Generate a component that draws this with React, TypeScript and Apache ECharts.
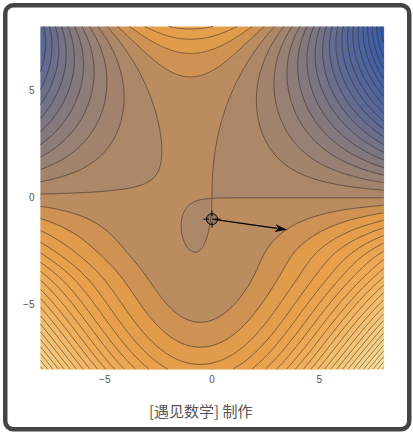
import { useEffect, useRef } from 'react';
import * as echarts from 'echarts';

// ---------- values ----------
const X_RANGE = [-8, 8];
const Y_RANGE = [-8, 8];
const MAJOR_TICKS = [-5, 0, 5];
const MINOR_TICKS = [-7, -6, -4, -3, -2, -1, 1, 2, 3, 4, 6, 7];
// surface
const AXIS_X = [-0.95, 0.38, -3, 2.5]; // symmetry axis of the contour family (+ shift low down)
const WIDTH_UP = [0.9, 0.44, 0.45];   // half-width law above y = 0
const WIDTH_DOWN = [0.0984, 0.0121];  // half-width law below y = 0
const TILT = [1.2, -1.0, 3];          // left/right asymmetry
const LEVEL_STEP = [28];
const POINT = [0, -1];
const ARROW_TIP = [3.5, -1.5];
// band colours by contour band index (band 0 = the one just above the level through the point)
const BAND_COLORS: number[][] = [
  [-19, 58, 93, 168],
  [-10, 92, 105, 150],
  [-5, 132, 121, 126],
  [-1, 172, 136, 105],
  [0, 186, 140, 96],
  [1, 206, 147, 84],
  [2, 224, 156, 76],
  [4, 232, 160, 76],
  [8, 238, 172, 88],
  [12, 242, 189, 110],
  [17, 246, 206, 133],
  [24, 250, 226, 162],
];
const CAPTION = '[遇见数学] 制作';

function axisAt(y: number) {
  return AXIS_X[0] + AXIS_X[1] / (1 + Math.exp((y - AXIS_X[2]) * AXIS_X[3]));
}
function halfWidth2(y: number) {
  if (y >= 0) return WIDTH_UP[0] + WIDTH_UP[1] * (Math.exp(WIDTH_UP[2] * y) - 1 - WIDTH_UP[2] * y);
  const a = -y;
  return WIDTH_UP[0] - WIDTH_DOWN[0] * a * a - WIDTH_DOWN[1] * a * a * a;
}
function softplus(z: number) {
  return z > 30 ? z : Math.log1p(Math.exp(z));
}
function tilt(x: number) {
  const [eps, x1, k] = TILT;
  return (eps * (softplus(-k * (x - x1)) - softplus(k * x1))) / k;
}
function surface(x: number, y: number) {
  const u = x - axisAt(y);
  return -y * (u * u - halfWidth2(y)) + tilt(x);
}

function bandColor(k: number) {
  const S = BAND_COLORS;
  if (k <= S[0][0]) return `rgb(${S[0][1]},${S[0][2]},${S[0][3]})`;
  for (let i = 1; i < S.length; i++) {
    const a = S[i - 1];
    const b = S[i];
    if (k <= b[0]) {
      const s = (k - a[0]) / (b[0] - a[0]);
      const c = [1, 2, 3].map((j) => Math.round(a[j] + (b[j] - a[j]) * s));
      return `rgb(${c[0]},${c[1]},${c[2]})`;
    }
  }
  const l = S[S.length - 1];
  return `rgb(${l[1]},${l[2]},${l[3]})`;
}

function buildFill(step: number) {
  const rows = 342;
  const cols = 686;
  const dx = (X_RANGE[1] - X_RANGE[0]) / cols;
  const dy = (Y_RANGE[1] - Y_RANGE[0]) / rows;
  const runs: number[][] = [];
  for (let r = 0; r < rows; r++) {
    const y0 = Y_RANGE[0] + r * dy;
    const yc = y0 + dy / 2;
    let start = X_RANGE[0];
    let band = NaN;
    for (let c = 0; c < cols; c++) {
      const xc = X_RANGE[0] + (c + 0.5) * dx;
      const b = Math.floor(surface(xc, yc) / step);
      if (c === 0) band = b;
      else if (b !== band) {
        const xe = X_RANGE[0] + c * dx;
        runs.push([start, xe, y0, y0 + dy, band]);
        start = xe;
        band = b;
      }
    }
    runs.push([start, X_RANGE[1], y0, y0 + dy, band]);
  }
  return runs;
}

function buildContours(step: number) {
  const N = 321;
  const h = (X_RANGE[1] - X_RANGE[0]) / (N - 1);
  const xs = new Float64Array(N);
  for (let i = 0; i < N; i++) xs[i] = X_RANGE[0] + i * h;
  const vals = new Float64Array(N * N);
  let vmin = Infinity;
  let vmax = -Infinity;
  for (let j = 0; j < N; j++)
    for (let i = 0; i < N; i++) {
      const v = surface(xs[i], Y_RANGE[0] + j * h);
      vals[j * N + i] = v;
      if (v < vmin) vmin = v;
      if (v > vmax) vmax = v;
    }
  const kmin = Math.ceil(vmin / step);
  const kmax = Math.floor(vmax / step);
  const adj = new Map<number, Map<number, number[]>>();
  const pts = new Map<number, Map<number, number[]>>();
  for (let k = kmin; k <= kmax; k++) {
    adj.set(k, new Map());
    pts.set(k, new Map());
  }
  const edgePoint = (k: number, id: number, L: number) => {
    const pm = pts.get(k)!;
    if (pm.has(id)) return;
    const horiz = id % 2 === 0;
    const base = id >> 1;
    const i = base % N;
    const j = (base - i) / N;
    const va = vals[j * N + i];
    if (horiz) {
      const vb = vals[j * N + i + 1];
      const t = (L - va) / (vb - va);
      pm.set(id, [xs[i] + t * h, Y_RANGE[0] + j * h]);
    } else {
      const vb = vals[(j + 1) * N + i];
      const t = (L - va) / (vb - va);
      pm.set(id, [xs[i], Y_RANGE[0] + (j + t) * h]);
    }
  };
  const link = (k: number, a: number, b: number, L: number) => {
    edgePoint(k, a, L);
    edgePoint(k, b, L);
    const m = adj.get(k)!;
    if (!m.has(a)) m.set(a, []);
    if (!m.has(b)) m.set(b, []);
    m.get(a)!.push(b);
    m.get(b)!.push(a);
  };
  for (let j = 0; j < N - 1; j++)
    for (let i = 0; i < N - 1; i++) {
      const v0 = vals[j * N + i];
      const v1 = vals[j * N + i + 1];
      const v2 = vals[(j + 1) * N + i + 1];
      const v3 = vals[(j + 1) * N + i];
      const lo = Math.min(v0, v1, v2, v3);
      const hi = Math.max(v0, v1, v2, v3);
      const k0 = Math.ceil(lo / step);
      const k1 = Math.floor(hi / step);
      if (k1 < k0) continue;
      const e0 = (j * N + i) * 2;
      const e2 = ((j + 1) * N + i) * 2;
      const e3 = (j * N + i) * 2 + 1;
      const e1 = (j * N + i + 1) * 2 + 1;
      for (let k = k0; k <= k1; k++) {
        const L = k * step;
        const c = (v0 > L ? 1 : 0) | (v1 > L ? 2 : 0) | (v2 > L ? 4 : 0) | (v3 > L ? 8 : 0);
        const center = (v0 + v1 + v2 + v3) / 4 > L;
        switch (c) {
          case 1: case 14: link(k, e3, e0, L); break;
          case 2: case 13: link(k, e0, e1, L); break;
          case 3: case 12: link(k, e3, e1, L); break;
          case 4: case 11: link(k, e1, e2, L); break;
          case 6: case 9: link(k, e0, e2, L); break;
          case 7: case 8: link(k, e3, e2, L); break;
          case 5:
            if (center) { link(k, e0, e1, L); link(k, e2, e3, L); }
            else { link(k, e3, e0, L); link(k, e1, e2, L); }
            break;
          case 10:
            if (center) { link(k, e3, e0, L); link(k, e1, e2, L); }
            else { link(k, e0, e1, L); link(k, e2, e3, L); }
            break;
          default: break;
        }
      }
    }
  const lines: number[][][] = [];
  for (let k = kmin; k <= kmax; k++) {
    const m = adj.get(k)!;
    const pm = pts.get(k)!;
    const used = new Set<number>();
    const walk = (s: number) => {
      const line: number[][] = [pm.get(s)!];
      used.add(s);
      let prev = -1;
      let cur = s;
      for (;;) {
        const nb = m.get(cur)!;
        let nxt = -1;
        for (const n of nb) if (n !== prev && !used.has(n)) { nxt = n; break; }
        if (nxt < 0) {
          for (const n of nb) if (n === s && prev !== s && line.length > 2) line.push(pm.get(s)!);
          break;
        }
        used.add(nxt);
        line.push(pm.get(nxt)!);
        prev = cur;
        cur = nxt;
      }
      if (line.length > 1) lines.push(line);
    };
    for (const [id, nb] of m) if (nb.length === 1 && !used.has(id)) walk(id);
    for (const id of m.keys()) if (!used.has(id)) walk(id);
  }
  return lines;
}

export default function App() {
  const ref = useRef<HTMLDivElement>(null);
  useEffect(() => {
    document.body.style.margin = '0';
    const chart = echarts.init(ref.current!, undefined, { renderer: 'svg' });
    const step = LEVEL_STEP[0];
    const runs = buildFill(step);
    const lines = buildContours(step);
    const tickColor = '#6f7785';
    const frameColor = '#6a6a6a';
    const fmt = (v: number) => (v < 0 ? '\u2212' + Math.abs(v) : String(v));
    const mkX = (pos: 'bottom' | 'top', major: boolean) => ({
      type: 'value', min: X_RANGE[0], max: X_RANGE[1], position: pos,
      axisLine: { show: major, lineStyle: { color: frameColor, width: 1 } },
      axisTick: { show: true, inside: true, length: major ? 5 : 2.5, customValues: major ? MAJOR_TICKS : MINOR_TICKS, lineStyle: { color: tickColor, width: 1 } },
      axisLabel: { show: major && pos === 'bottom', customValues: MAJOR_TICKS, formatter: fmt, color: '#555', fontSize: 10, fontFamily: 'Liberation Sans, Arial, sans-serif', margin: 5 },
      splitLine: { show: false },
    });
    const mkY = (pos: 'left' | 'right', major: boolean) => ({
      type: 'value', min: Y_RANGE[0], max: Y_RANGE[1], position: pos,
      axisLine: { show: major, lineStyle: { color: frameColor, width: 1 } },
      axisTick: { show: true, inside: true, length: major ? 5 : 2.5, customValues: major ? MAJOR_TICKS : MINOR_TICKS, lineStyle: { color: tickColor, width: 1 } },
      axisLabel: { show: major && pos === 'left', customValues: MAJOR_TICKS, formatter: fmt, color: '#555', fontSize: 10, fontFamily: 'Liberation Sans, Arial, sans-serif', margin: 6 },
      splitLine: { show: false },
    });
    chart.setOption({
      animation: false,
      grid: { left: 40.5, top: 26.5, width: 343, height: 342.5 },
      xAxis: [mkX('bottom', true), mkX('bottom', false), mkX('top', true), mkX('top', false)],
      yAxis: [mkY('left', true), mkY('left', false), mkY('right', true), mkY('right', false)],
      series: [
        {
          type: 'custom',
          xAxisIndex: 0, yAxisIndex: 0,
          clip: true,
          silent: true,
          encode: { x: [0, 1], y: [2, 3] },
          data: runs,
          renderItem: (_p: any, api: any) => {
            const a = api.coord([api.value(0), api.value(3)]);
            const b = api.coord([api.value(1), api.value(2)]);
            return {
              type: 'rect',
              shape: { x: a[0], y: a[1], width: b[0] - a[0] + 0.6, height: b[1] - a[1] + 0.6 },
              style: { fill: bandColor(api.value(4)) },
            };
          },
          z: 1,
        },
        {
          type: 'lines',
          coordinateSystem: 'cartesian2d',
          xAxisIndex: 0, yAxisIndex: 0,
          polyline: true,
          silent: true,
          data: lines.map((c) => ({ coords: c })),
          lineStyle: { color: 'rgba(50,42,36,0.62)', width: 0.9, opacity: 1 },
          z: 2,
        },
        {
          type: 'custom',
          xAxisIndex: 0, yAxisIndex: 0,
          silent: true,
          encode: { x: [0, 2], y: [1, 3] },
          data: [[POINT[0], POINT[1], ARROW_TIP[0], ARROW_TIP[1]]],
          renderItem: (_p: any, api: any) => {
            const p = api.coord([api.value(0), api.value(1)]);
            const q = api.coord([api.value(2), api.value(3)]);
            const dx = q[0] - p[0];
            const dy = q[1] - p[1];
            const len = Math.hypot(dx, dy);
            const ux = dx / len;
            const uy = dy / len;
            const hl = 12;
            const hw = 4;
            const bx = q[0] - ux * hl;
            const by = q[1] - uy * hl;
            const nx = -uy;
            const ny = ux;
            const r = 5.5;
            const c = 8.5;
            return {
              type: 'group',
              children: [
                { type: 'line', shape: { x1: p[0], y1: p[1], x2: bx + ux * 2, y2: by + uy * 2 }, style: { stroke: '#000', lineWidth: 1.2 } },
                { type: 'polygon', shape: { points: [[q[0], q[1]], [bx + nx * hw, by + ny * hw], [bx + ux * 3, by + uy * 3], [bx - nx * hw, by - ny * hw]] }, style: { fill: '#000' } },
                { type: 'circle', shape: { cx: p[0], cy: p[1], r }, style: { fill: 'rgba(90,80,70,0.35)', stroke: '#000', lineWidth: 1 } },
                { type: 'line', shape: { x1: p[0] - c, y1: p[1], x2: p[0] - r + 2.5, y2: p[1] }, style: { stroke: '#000', lineWidth: 1 } },
                { type: 'line', shape: { x1: p[0] + r - 2.5, y1: p[1], x2: p[0] + c, y2: p[1] }, style: { stroke: '#000', lineWidth: 1 } },
                { type: 'line', shape: { x1: p[0], y1: p[1] - c, x2: p[0], y2: p[1] - r + 2.5 }, style: { stroke: '#000', lineWidth: 1 } },
                { type: 'line', shape: { x1: p[0], y1: p[1] + r - 2.5, x2: p[0], y2: p[1] + c }, style: { stroke: '#000', lineWidth: 1 } },
              ],
            };
          },
          z: 5,
        },
      ],
      graphic: [
        {
          type: 'rect', left: 3, top: 3, z: -10,
          shape: { width: 404, height: 424, r: 8 },
          style: { fill: '#fff', stroke: '#444', lineWidth: 4.5 },
        },
        {
          type: 'text', left: 149, top: 403,
          style: { text: CAPTION, fill: '#555', font: '15px "Noto Sans CJK SC", sans-serif' },
        },
      ],
    });
    return () => chart.dispose();
  }, []);
  return <div ref={ref} style={{ width: 413, height: 432 }} />;
}
